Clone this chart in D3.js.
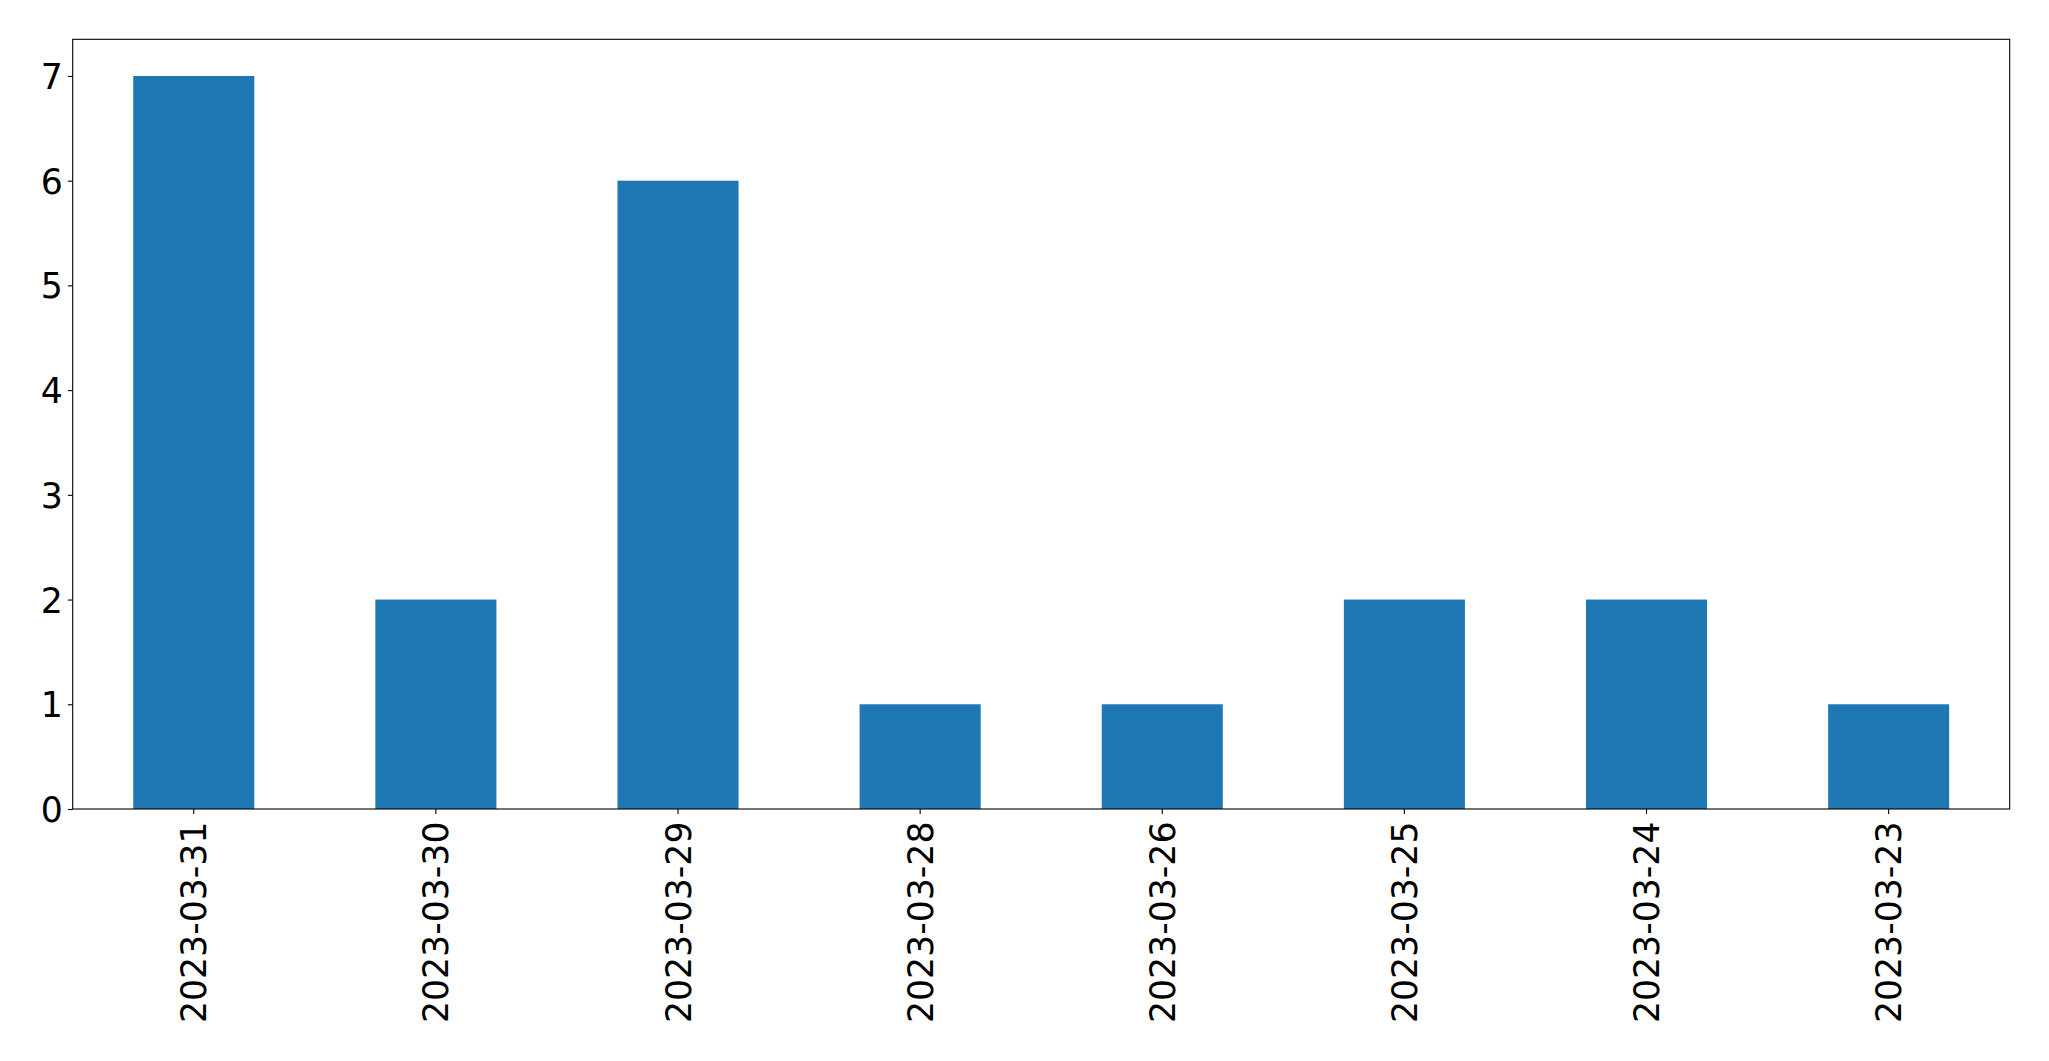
<!DOCTYPE html>
<html>
<head>
<meta charset="utf-8">
<script src="https://cdn.jsdelivr.net/npm/d3@7"></script>
<style>
  html, body { margin: 0; padding: 0; background: #fff; }
  svg { display: block; }
  .tick text { font-family: "DejaVu Sans", sans-serif; font-size: 34.7px; fill: #000; }
</style>
</head>
<body>
<svg id="chart" width="2049" height="1061"></svg>
<script>
const categories = ["2023-03-31", "2023-03-30", "2023-03-29", "2023-03-28", "2023-03-26", "2023-03-25", "2023-03-24", "2023-03-23"];
const values = [7, 2, 6, 1, 1, 2, 2, 1];
const yTicks = [0, 1, 2, 3, 4, 5, 6, 7];

(function () {
const plotLeft = 72.7, plotRight = 2009.7, plotTop = 39.3, plotBottom = 809;

const svg = d3.select("#chart");

const x = d3.scaleBand().domain(categories).range([plotLeft, plotRight]).paddingInner(0.5).paddingOuter(0.25);
const y = d3.scaleLinear().domain([0, d3.max(values) * 1.05]).range([plotBottom, plotTop]);

svg.append("g").selectAll("rect")
  .data(values)
  .join("rect")
  .attr("x", (d, i) => x(categories[i]))
  .attr("width", x.bandwidth())
  .attr("y", d => y(d))
  .attr("height", d => y(0) - y(d))
  .attr("fill", "#1f77b4");

svg.append("rect")
  .attr("x", plotLeft).attr("y", plotTop)
  .attr("width", plotRight - plotLeft).attr("height", plotBottom - plotTop)
  .attr("fill", "none").attr("stroke", "#000").attr("stroke-width", 1.1);

const yAxis = d3.axisLeft(y).tickValues(yTicks).tickFormat(d3.format("d")).tickSize(4.9).tickPadding(5);
const gy = svg.append("g").attr("transform", `translate(${plotLeft},0)`).call(yAxis);
gy.select(".domain").remove();
gy.selectAll(".tick line").attr("stroke", "#000").attr("stroke-width", 1.1);
gy.selectAll(".tick text").attr("dy", "0.36em");

const xAxis = d3.axisBottom(x).tickSize(4.9).tickPadding(0);
const gx = svg.append("g").attr("transform", `translate(0,${plotBottom})`).call(xAxis);
gx.select(".domain").remove();
gx.selectAll(".tick line").attr("stroke", "#000").attr("stroke-width", 1.1);
gx.selectAll(".tick text")
  .attr("transform", "rotate(-90)")
  .attr("text-anchor", "end")
  .attr("x", -12.5)
  .attr("y", 0)
  .attr("dy", "0.36em");
})();
</script>
</body>
</html>
